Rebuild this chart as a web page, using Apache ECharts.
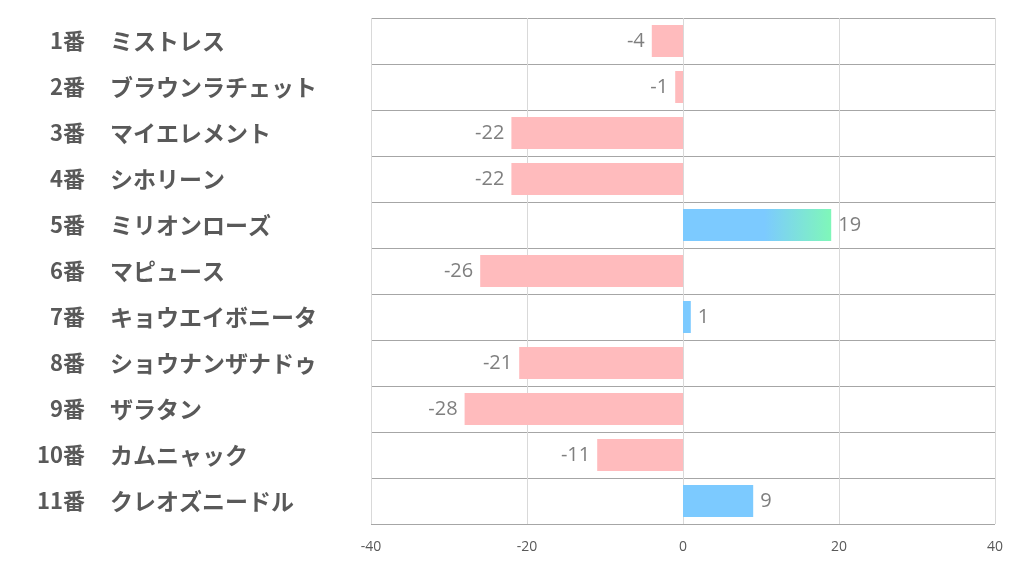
<!DOCTYPE html>
<html><head><meta charset="utf-8">
<script src="https://cdn.jsdelivr.net/npm/echarts@6/dist/echarts.min.js"></script>
<style>html,body{margin:0;padding:0;background:#fff}#c{width:1022px;height:574px}</style>
</head><body><div id="c"></div>
<script>
const nums = ['1番','2番','3番','4番','5番','6番','7番','8番','9番','10番','11番'];
const names = ['ミストレス','ブラウンラチェット','マイエレメント','シホリーン','ミリオンローズ','マピュース','キョウエイボニータ','ショウナンザナドゥ','ザラタン','カムニャック','クレオズニードル'];
const values = [-4,-1,-22,-22,19,-26,1,-21,-28,-11,9];
const xTicks = [-40,-20,0,20,40];

const chart = echarts.init(document.getElementById('c'));
const data = values.map(v=>{
  let color;
  if (v < 0) color = '#ffbbbd';
  else if (v >= 15) color = new echarts.graphic.LinearGradient(0,0,1,0,[{offset:0,color:'#7ccaff'},{offset:0.55,color:'#7ccaff'},{offset:1,color:'#7ff7b9'}]);
  else color = '#7ccaff';
  return {value:v, itemStyle:{color}, label:{position: v<0?'left':'right'}};
});
const lblFont = {fontWeight:'bold',color:'#595959',fontFamily:'Noto Sans CJK JP'};
chart.setOption({
  animation:false,
  grid:{left:371,right:27,top:18,bottom:50,containLabel:false},
  xAxis:{type:'value',min:xTicks[0],max:xTicks[xTicks.length-1],interval:20,
    axisLine:{show:false},axisTick:{show:false},
    splitLine:{show:true,lineStyle:{color:'#d9d9d9',width:1}},
    axisLabel:{color:'#595959',fontSize:14,margin:16,fontFamily:'Open Sans, Noto Sans, sans-serif'}},
  yAxis:[
    {type:'category',inverse:true,data:nums,position:'left',
      axisLine:{show:false},axisTick:{show:false},
      splitLine:{show:true,lineStyle:{color:'#a6a6a6',width:1}},
      axisLabel:Object.assign({align:'right',margin:286,fontSize:22},lblFont)},
    {type:'category',inverse:true,data:names,position:'left',offset:0,
      axisLine:{show:false},axisTick:{show:false},splitLine:{show:false},
      axisLabel:Object.assign({align:'left',margin:261,fontSize:23},lblFont)}
  ],
  series:[{type:'bar',data:data,barWidth:32,yAxisIndex:0,
    label:{show:true,color:'#7f7f7f',fontSize:20,distance:7,fontFamily:'Open Sans, Noto Sans, sans-serif'}}]
});
</script></body></html>
